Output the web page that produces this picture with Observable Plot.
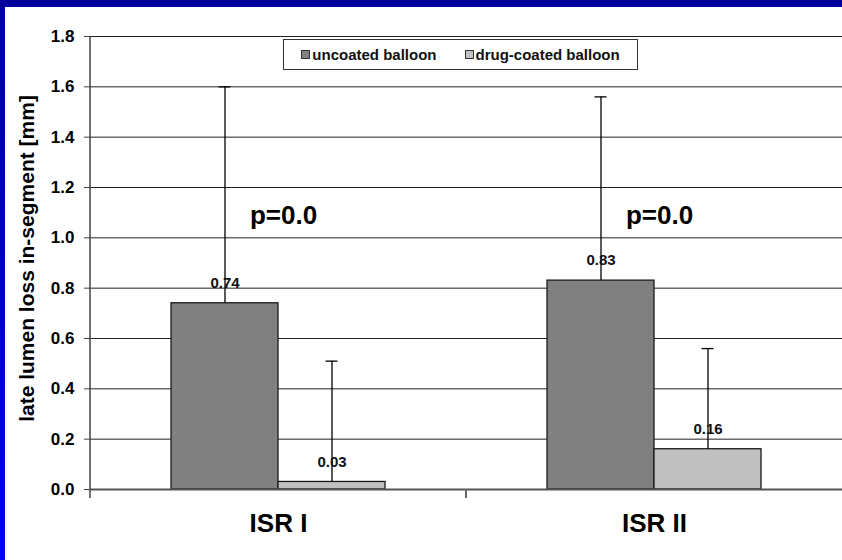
<!DOCTYPE html>
<html>
<head>
<meta charset="utf-8">
<script src="https://cdn.jsdelivr.net/npm/d3@7"></script>
<script src="https://cdn.jsdelivr.net/npm/@observablehq/plot@0.6"></script>
<style>
  html, body { margin: 0; padding: 0; background: #fff; }
  #slide { position: relative; width: 842px; height: 560px; overflow: hidden; background: #fff;
           font-family: "Liberation Sans", Arial, Helvetica, sans-serif; }
  #slide svg { position: absolute; left: 0; top: 0; }
  .band-top { position: absolute; left: 0; top: 0; width: 842px; height: 7px; background: #00009a; }
  .band-left { position: absolute; left: 0; top: 0; width: 5px; height: 560px;
               background: linear-gradient(to bottom, #00009a, #0000f5); }
  #legend { position: absolute; left: 283px; top: 39px; width: 353px; height: 29px;
            border: 1px solid #333; background: #fff; display: flex; align-items: center;
            justify-content: center; gap: 28px; font-weight: bold; font-size: 15px; color: #111; }
  #legend .item { display: flex; align-items: center; gap: 2px; }
  #legend .sw { width: 7px; height: 7px; border: 1px solid #333; }
</style>
</head>
<body>
<div id="slide"></div>
<script>
// Study groups (x categories) and the two balloon types
const groups = ["ISR I", "ISR II"];
const series = ["uncoated balloon", "drug-coated balloon"];
const seriesColors = ["#808080", "#c0c0c0"];

// Mean late lumen loss [mm] and upper end of the error bar (mean + SD)
const uncoatedMean = [0.74, 0.83];
const uncoatedUpper = [1.60, 1.56];
const drugCoatedMean = [0.03, 0.16];
const drugCoatedUpper = [0.51, 0.56];

// Significance annotation per group
const pLabels = ["p=0.0", "p=0.0"];

// Y axis ticks
const yTicks = [0, 0.2, 0.4, 0.6, 0.8, 1.0, 1.2, 1.4, 1.6, 1.8];
const yTitle = "late lumen loss in-segment [mm]";

const rows = groups.flatMap((g, i) => [
  {group: g, series: series[0], value: uncoatedMean[i], upper: uncoatedUpper[i]},
  {group: g, series: series[1], value: drugCoatedMean[i], upper: drugCoatedUpper[i]}
]);
const pRows = groups.map((g, i) => ({group: g, label: pLabels[i]}));

const W = 842, H = 560;
const font = "'Liberation Sans', Arial, Helvetica, sans-serif";

const chart = Plot.plot({
  width: W,
  height: H,
  marginLeft: 90,
  marginRight: 0,
  marginTop: 36,
  marginBottom: 71,
  facet: {marginTop: 0, marginRight: 0, marginBottom: 0, marginLeft: 0},
  style: {fontFamily: font, background: "white", color: "#000"},
  fx: {domain: groups, padding: 0, axis: null},
  x: {domain: series, paddingInner: 0, paddingOuter: 0.75, axis: null},
  y: {domain: [0, 1.8], axis: null},
  color: {domain: series, range: seriesColors},
  marks: [
    Plot.gridY(yTicks.filter(d => d > 0), {stroke: "#222", strokeOpacity: 1, strokeWidth: 1}),
    Plot.barY(rows, {fx: "group", x: "series", y: "value", fill: "series",
                     stroke: "#1a1a1a", strokeWidth: 1.3}),
    Plot.ruleY([0], {stroke: "#555", strokeWidth: 2}),
    Plot.ruleX(rows, {fx: "group", x: "series", y1: "value", y2: "upper",
                      stroke: "#000", strokeWidth: 1.3}),
    Plot.tickY(rows, {fx: "group", x: "series", y: "upper", stroke: "#000", strokeWidth: 1.3,
                      insetLeft: 47.5, insetRight: 47.5}),
    Plot.text(rows, {fx: "group", x: "series", y: "value", text: d => d3.format(".2f")(d.value),
                     dy: -20, fontSize: 15, fontWeight: "bold", fill: "#111"}),
    Plot.text(pRows, {fx: "group", y: () => 1.09, text: "label", dx: 5,
                      fontSize: 26, fontWeight: "bold", fill: "#000"}),
    Plot.axisY({ticks: yTicks, tickSize: 6, tickPadding: 10, fontSize: 17, fontWeight: "bold",
                tickFormat: d3.format(".1f"), stroke: "#444", label: null}),
    Plot.axisFx({anchor: "bottom", tickSize: 0, tickPadding: 24, fontSize: 26,
                 fontWeight: "bold", label: null})
  ]
});

// Axis spine, group-boundary ticks and the y-axis title, placed with the chart's scales
const fxScale = chart.scale("fx"), yScale = chart.scale("y");
const svg = d3.select(chart);
const y0 = yScale.apply(0), yTop = yScale.apply(1.8);
const leftEdge = fxScale.range[0];
const decor = svg.append("g").attr("stroke", "#444").attr("stroke-width", 1.5);
decor.append("line").attr("x1", leftEdge).attr("x2", leftEdge).attr("y1", yTop).attr("y2", y0 + 9);
groups.slice(1).forEach(g => {
  const gx = fxScale.apply(g);
  decor.append("line").attr("x1", gx).attr("x2", gx).attr("y1", y0).attr("y2", y0 + 9)
       .attr("stroke", "#666").attr("stroke-width", 2);
});
svg.append("text")
  .attr("transform", `translate(${leftEdge - 56},${(yTop + y0) / 2 - 4}) rotate(-90)`)
  .attr("text-anchor", "middle")
  .attr("font-family", font)
  .attr("font-size", 21)
  .attr("font-weight", "bold")
  .attr("fill", "#000")
  .text(yTitle);

const slide = document.getElementById("slide");
slide.appendChild(chart);

// Legend overlay in the top of the plot area
const legend = document.createElement("div");
legend.id = "legend";
series.forEach((s, i) => {
  const item = document.createElement("div");
  item.className = "item";
  const sw = document.createElement("span");
  sw.className = "sw";
  sw.style.background = seriesColors[i];
  const label = document.createElement("span");
  label.textContent = s;
  item.appendChild(sw);
  item.appendChild(label);
  legend.appendChild(item);
});
slide.appendChild(legend);

// Slide frame
const bandTop = document.createElement("div"); bandTop.className = "band-top"; slide.appendChild(bandTop);
const bandLeft = document.createElement("div"); bandLeft.className = "band-left"; slide.appendChild(bandLeft);
</script>
</body>
</html>
